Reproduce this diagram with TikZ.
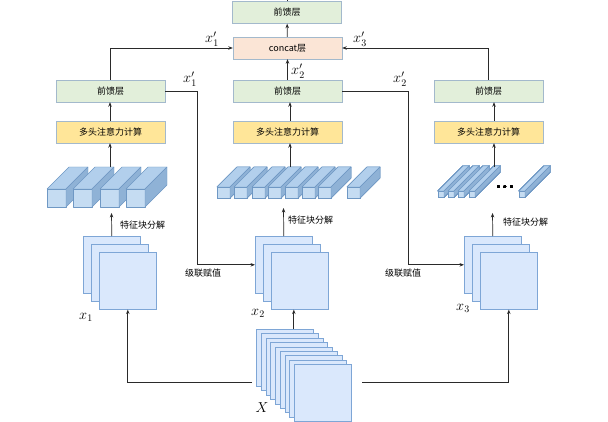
\documentclass[tikz,border=0pt]{standalone}
\usepackage{fontspec}
\newfontfamily\cjk{Noto Sans CJK SC}
\usetikzlibrary{arrows.meta}
\definecolor{ffgreen}{HTML}{E2EFDA}
\definecolor{mhyellow}{HTML}{FFE699}
\definecolor{catpink}{HTML}{FBE5D6}
\definecolor{boxline}{HTML}{A3B9CC}
\definecolor{sqfill}{HTML}{DAE8FC}
\definecolor{sqline}{HTML}{7EA6D6}
\definecolor{cubfront}{HTML}{C5DCF2}
\definecolor{cubtop}{HTML}{B2CFEC}
\definecolor{cubside}{HTML}{8FB2D6}
\definecolor{cubline}{HTML}{6F98C4}
\definecolor{wire}{HTML}{2A2A2A}

% x, y (front bottom left), width, height, depth
\newcommand{\cuboid}[5]{%
  \filldraw[cub, fill=cubfront] (#1,#2) rectangle ++(#3,-#4);
  \filldraw[cub, fill=cubtop] (#1,#2-#4) -- ++(#5,-#5) -- ++(#3,0) -- ++(-#5,#5) -- cycle;
  \filldraw[cub, fill=cubside] (#1+#3,#2) -- ++(#5,-#5) -- ++(0,-#4) -- ++(-#5,#5) -- cycle;}

\begin{document}
\begin{tikzpicture}[x=1pt, y=-1pt,
    box/.style={draw=boxline, rectangle, minimum width=109pt, minimum height=22pt, inner sep=0pt, font=\cjk\fontsize{9}{10}\selectfont},
    ffbox/.style={box, fill=ffgreen},
    mhbox/.style={box, fill=mhyellow},
    catbox/.style={box, fill=catpink},
    sq/.style={draw=sqline, fill=sqfill, line width=0.6pt, minimum width=57pt, minimum height=57pt, inner sep=0pt, anchor=north west},
    cub/.style={draw=cubline, line width=0.4pt, line join=round},
    arr/.style={-{Stealth[length=4.5pt, width=3.5pt]}, draw=wire, line width=0.7pt},
    wire/.style={draw=wire, line width=0.7pt},
    lab/.style={font=\cjk\fontsize{9}{10}\selectfont, inner sep=1pt},
    mlab/.style={font=\Large, inner sep=0pt}]
  \useasboundingbox (0,0) rectangle (608,422);

  % boxes
  \node[ffbox] (ffTop) at (287,12.5) {前馈层};
  \node[catbox] (concat) at (287.5,48) {concat层};
  \node[ffbox] (ff1) at (110.5,91) {前馈层};
  \node[ffbox] (ff2) at (287.5,91) {前馈层};
  \node[ffbox] (ff3) at (488.5,91) {前馈层};
  \node[mhbox] (mh1) at (110.5,132) {多头注意力计算};
  \node[mhbox] (mh2) at (287.5,132) {多头注意力计算};
  \node[mhbox] (mh3) at (488.5,132) {多头注意力计算};

  % feature blocks
  \foreach \x in {47,73,100,126} \cuboid{\x}{207}{19}{18}{22}
  \foreach \x in {217,234,252,268,285,302,318,347} \cuboid{\x}{198}{13}{11}{20}
  \foreach \x in {438,448,458,469,519} \cuboid{\x}{197}{6}{6}{25}
  \node[font=\tiny, inner sep=0pt] (dots) at (505,187) {$\bullet\,\bullet\,\bullet$};

  % stacks
  \foreach \i/\n in {0/a,1/b,2/c} {
    \node[sq] (x1\n) at (83+8*\i,236+8*\i) {};
    \node[sq] (x2\n) at (255+8*\i,236+8*\i) {};
    \node[sq] (x3\n) at (464+8*\i,236+8*\i) {};
  }
  \foreach \i/\n in {0/a,1/b,2/c,3/d,4/e,5/f,6/g,7/h,8/i}
    \node[sq] (X\n) at (256+4.75*\i,329+4.4*\i) {};

  \node[mlab] (lx1) at (86,317) {$x_1$};
  \node[mlab] (lx2) at (258,313) {$x_2$};
  \node[mlab] (lx3) at (463,308) {$x_3$};
  \node[mlab] (lX) at (262,408) {$X$};

  \coordinate (c1b) at (111.5,213);
  \coordinate (c2b) at (283.5,208);
  \coordinate (c3b) at (492.5,213);
  \coordinate (c1t) at (110,167);
  \coordinate (c2t) at (290,167);
  \coordinate (c3t) at (494,167);
  \coordinate (j1) at (197,91);
  \coordinate (j2) at (408,91);
  \coordinate (xl) at (252,382);
  \coordinate (xr) at (362,382);
  \coordinate (top) at (287,0);

  % connectors
  \draw[arr] (x1a.north) -- (c1b);
  \draw[arr] (x2a.north) -- (c2b);
  \draw[arr] (x3a.north) -- (c3b);
  \node[lab, anchor=west] (dec1) at (119,225) {特征块分解};
  \node[lab, anchor=west] (dec2) at (287,220) {特征块分解};
  \node[lab, anchor=west] (dec3) at (502,222) {特征块分解};
  \draw[arr] (c1t) -- (c1t |- mh1.south);
  \draw[arr] (c2t) -- (c2t |- mh2.south);
  \draw[arr] (c3t) -- (c3t |- mh3.south);
  \draw[arr] (c1t |- mh1.north) -- (c1t |- ff1.south);
  \draw[arr] (c2t |- mh2.north) -- (c2t |- ff2.south);
  \draw[arr] (c3t |- mh3.north) -- (c3t |- ff3.south);
  \draw[arr] (ff2) -- (concat);
  \draw[arr] (concat) -- (ffTop);
  \draw[wire] (ffTop.north) -- (top);
  \draw[arr] (ff1.north) |- (concat.west);
  \draw[arr] (ff3.north) |- (concat.east);
  \draw[arr] (ff1.east) -- (j1) |- (x2a.west);
  \draw[arr] (ff2.east) -- (j2) |- (x3a.west);
  \node[lab] (cas1) at (203,273) {级联赋值};
  \node[lab] (cas2) at (403,273) {级联赋值};
  \node[mlab] (p1a) at (212,39) {$x'_1$};
  \node[mlab] (p1b) at (190,79) {$x'_1$};
  \node[mlab] (p2a) at (298,71) {$x'_2$};
  \node[mlab] (p2b) at (400,79) {$x'_2$};
  \node[mlab] (p3a) at (360,39) {$x'_3$};
  \draw[arr] (xl) -| (x1c.south);
  \draw[arr] (xr) -| (x3c.south);
  \draw[arr] ([xshift=9pt]Xa.north) -- ([xshift=9pt]Xa.north |- x2c.south);
\end{tikzpicture}
\end{document}
